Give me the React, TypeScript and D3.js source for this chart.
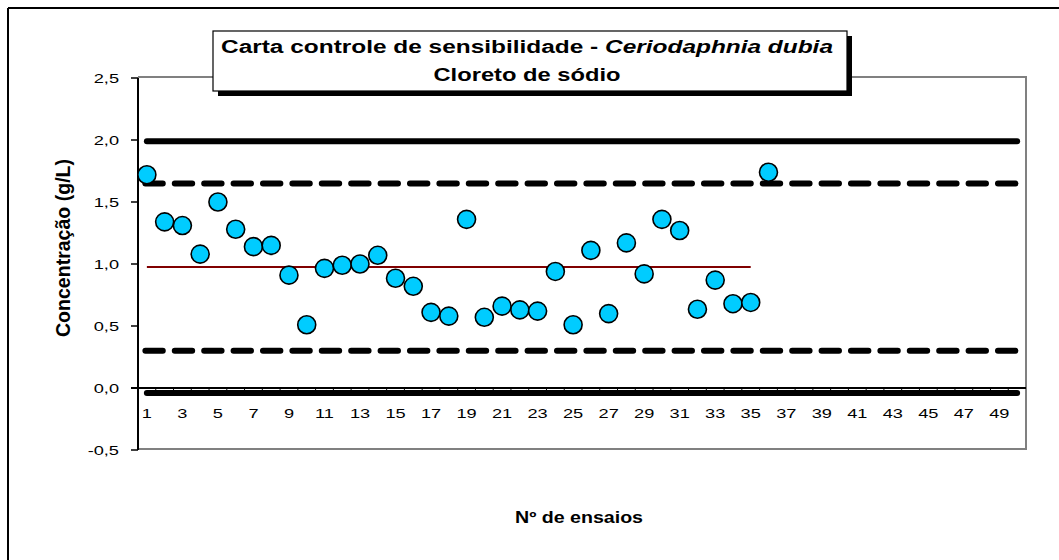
import * as d3 from "d3";

// nº do ensaio (eixo x)
const trials = d3.range(1, 51);
// concentração (g/L) medida em cada ensaio
const values = [
  1.72, 1.34, 1.31, 1.08, 1.5, 1.28, 1.14, 1.15, 0.91, 0.51, 0.965, 0.99,
  1.0, 1.07, 0.885, 0.82, 0.61, 0.58, 1.36, 0.57, 0.66, 0.63, 0.62, 0.94,
  0.51, 1.11, 0.6, 1.17, 0.92, 1.36, 1.27, 0.635, 0.87, 0.68, 0.69, 1.74,
];
// limites da carta
const meanValue = 0.975;
const meanLastTrial = 35;
const upperControl = 1.99;
const upperWarning = 1.65;
const lowerWarning = 0.3;
const lowerControl = -0.04;
const yTicks = [-0.5, 0, 0.5, 1, 1.5, 2, 2.5];
const xTickLabels = trials.filter((t) => t % 2 === 1);

const titleLine1 = "Carta controle de sensibilidade - ";
const titleItalic = "Ceriodaphnia dubia";
const titleLine2 = "Cloreto de sódio";
const yTitle = "Concentração (g/L)";
const xTitle = "Nº de ensaios";

const W = 1059;
const H = 560;
const font = "'Liberation Sans', Arial, sans-serif";

export default function App() {
  const left = 138;
  const right = 1026;
  const top = 78;
  const bottom = 450;

  const x = d3
    .scaleBand<number>()
    .domain(trials)
    .range([left, right])
    .padding(0);
  const cx = (t: number) => (x(t) ?? 0) + x.bandwidth() / 2;
  const y = d3.scaleLinear().domain([-0.5, 2.5]).range([bottom, top]);
  const fmt = (v: number) =>
    d3.format(".1f")(v).replace(".", ",").replace("\u2212", "-");

  const first = trials[0];
  const last = trials[trials.length - 1];

  return (
    <svg
      width={W}
      height={H}
      style={{ position: "absolute", left: 0, top: 0, display: "block" }}
      fontFamily={font}
    >
      <rect width={W} height={H} fill="#fff" />
      {/* moldura externa */}
      <line x1={8} y1={8} x2={W + 10} y2={8} stroke="#000" strokeWidth={2} />
      <line x1={8} y1={8} x2={8} y2={H + 10} stroke="#000" strokeWidth={2} />

      {/* área de plotagem */}
      <path
        d={`M${left},${top - 1}H${right}V${bottom - 1}H${left}`}
        fill="none"
        stroke="#808080"
        strokeWidth={2}
      />

      {/* linhas de controle */}
      {[upperControl, lowerControl].map((v, i) => (
        <line
          key={"c" + i}
          x1={cx(first)}
          x2={cx(last)}
          y1={y(v)}
          y2={y(v)}
          stroke="#000"
          strokeWidth={6}
          strokeLinecap="round"
        />
      ))}
      {[upperWarning, lowerWarning].map((v, i) => (
        <line
          key={"w" + i}
          x1={cx(first) - 1.5}
          x2={cx(last)}
          y1={y(v)}
          y2={y(v)}
          stroke="#000"
          strokeWidth={6}
          strokeLinecap="round"
          strokeDasharray="17.4 12"
        />
      ))}
      <line
        x1={cx(first)}
        x2={cx(meanLastTrial)}
        y1={y(meanValue)}
        y2={y(meanValue)}
        stroke="#800000"
        strokeWidth={2}
      />

      {/* eixo y */}
      <line x1={left} x2={left} y1={top} y2={bottom} stroke="#000" strokeWidth={2} />
      {yTicks.map((t) => (
        <g key={t}>
          <line x1={left - 7} x2={left} y1={y(t)} y2={y(t)} stroke="#000" strokeWidth={1.5} />
          <text
            transform={`translate(${left - 19},${y(t) + 4.6}) scale(1.4,1)`}
            textAnchor="end"
            fontSize={13}
            fill="#000"
          >
            {fmt(t)}
          </text>
        </g>
      ))}

      {/* eixo x em zero */}
      <line x1={left - 7} x2={right} y1={y(0)} y2={y(0)} stroke="#000" strokeWidth={2} />
      {trials.map((t) => (
        <line
          key={t}
          x1={x(t)}
          x2={x(t)}
          y1={y(0)}
          y2={y(0) + 5}
          stroke="#000"
          strokeWidth={1}
        />
      ))}
      {xTickLabels.map((t) => (
        <text
          key={t}
          transform={`translate(${cx(t)},${y(0) + 30}) scale(1.4,1)`}
          textAnchor="middle"
          fontSize={13}
          fill="#000"
        >
          {t}
        </text>
      ))}

      {/* pontos */}
      {values.map((v, i) => (
        <circle
          key={i}
          cx={cx(trials[i])}
          cy={y(v)}
          r={9}
          fill="#00CCFF"
          stroke="#000"
          strokeWidth={1.6}
        />
      ))}

      {/* títulos dos eixos */}
      <text
        transform={`translate(70,248) scale(1.3,1) rotate(-90)`}
        textAnchor="middle"
        fontSize={16}
        fontWeight="bold"
        textLength={178}
        lengthAdjust="spacingAndGlyphs"
      >
        {yTitle}
      </text>
      <text
        x={579}
        y={523}
        textAnchor="middle"
        fontSize={16}
        fontWeight="bold"
        textLength={128}
        lengthAdjust="spacingAndGlyphs"
      >
        {xTitle}
      </text>

      {/* caixa do título */}
      <rect x={218} y={36} width={634} height={60} fill="#000" />
      <rect x={213} y={31} width={634} height={60} fill="#fff" stroke="#000" strokeWidth={1.2} />
      <text
        x={527}
        y={53}
        textAnchor="middle"
        fontSize={18}
        fontWeight="bold"
        textLength={612}
        lengthAdjust="spacingAndGlyphs"
      >
        {titleLine1}
        <tspan fontStyle="italic">{titleItalic}</tspan>
      </text>
      <text
        x={527}
        y={81}
        textAnchor="middle"
        fontSize={18}
        fontWeight="bold"
        textLength={187}
        lengthAdjust="spacingAndGlyphs"
      >
        {titleLine2}
      </text>
    </svg>
  );
}
